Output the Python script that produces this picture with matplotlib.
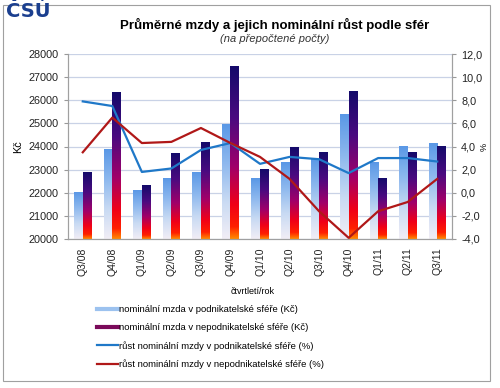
import numpy as np
import matplotlib
matplotlib.use('Agg')
import matplotlib.pyplot as plt
from matplotlib.lines import Line2D
from matplotlib.patches import Rectangle
from matplotlib.colors import LinearSegmentedColormap

plt.rcParams['font.family'] = ['Liberation Sans', 'DejaVu Sans']

quarters = ['Q3/08', 'Q4/08', 'Q1/09', 'Q2/09', 'Q3/09', 'Q4/09', 'Q1/10',
            'Q2/10', 'Q3/10', 'Q4/10', 'Q1/11', 'Q2/11', 'Q3/11']
# average wages (Kc)
wage_business = [22020, 23880, 22080, 22600, 22870, 24960, 22600,
                 23300, 23420, 25400, 23300, 24010, 24110]
wage_nonbusiness = [22880, 26320, 22310, 23690, 24170, 27480, 23020,
                    23940, 23740, 26390, 22630, 23740, 24010]
# nominal growth (%)
growth_business = [7.9, 7.5, 1.8, 2.1, 3.7, 4.3, 2.5, 3.1, 2.9, 1.7, 3.0, 3.0, 2.7]
growth_nonbusiness = [3.5, 6.5, 4.3, 4.4, 5.6, 4.3, 3.1, 1.2, -1.6, -3.9, -1.6, -0.8, 1.2]

labels = ['nominální mzda v podnikatelské sféře (Kč)',
          'nominální mzda v nepodnikatelské sféře (Kč)',
          'růst nominální mzdy v podnikatelské sféře (%)',
          'růst nominální mzdy v nepodnikatelské sféře (%)']

W, H = 500, 388
fig = plt.figure(figsize=(W / 100, H / 100), dpi=100)

# outer frame
fig.patches.append(Rectangle((3 / W, 1 - 381 / H), 487 / W, 376 / H, transform=fig.transFigure,
                             fill=False, edgecolor='#a0a0a0', lw=0.8))

ax = fig.add_axes([68 / W, 1 - 239 / H, (452 - 68) / W, (239 - 54) / H])
ax2 = ax.twinx()

cmap_light = LinearSegmentedColormap.from_list('light', ['#f2eef6', '#c8daf3', '#8db8ee', '#5a98e6'])
cmap_dark = LinearSegmentedColormap.from_list(
    'dark', [(0, '#ff8a00'), (0.07, '#ff2000'), (0.2, '#f00018'), (0.42, '#a0006a'),
             (0.7, '#4a0a80'), (1, '#140a6a')])
grad = np.linspace(0, 1, 256).reshape(-1, 1)

x = np.arange(len(quarters))
w = 0.29
b1 = ax.bar(x - w / 2, np.array(wage_business) - 20000, w, bottom=20000, color='none', zorder=2)
b2 = ax.bar(x + w / 2, np.array(wage_nonbusiness) - 20000, w, bottom=20000, color='none', zorder=2)
for bars, cm in ((b1, cmap_light), (b2, cmap_dark)):
    for p in bars:
        x0, y0 = p.get_x(), p.get_y()
        ax.imshow(grad, cmap=cm, origin='lower', aspect='auto', zorder=2,
                  extent=(x0, x0 + p.get_width(), y0, y0 + p.get_height()))

ax.set_xlim(-0.5, len(quarters) - 0.5)
ax.set_ylim(20000, 28000)
ax.set_yticks(np.arange(20000, 28001, 1000))
ax.yaxis.grid(True, color='#c9d2e6', lw=0.9, zorder=0)
ax.set_axisbelow(True)
ax.set_xticks(x)
ax.set_xticklabels(quarters, rotation=90, fontsize=7.5, color='#222222')
ax.tick_params(axis='x', length=0, pad=6)
ax.tick_params(axis='y', labelsize=7.8, colors='#222222', length=3, color='#999999')
ax.set_ylabel('Kč', fontsize=7.8, labelpad=4)

ax2.plot(x, growth_business, color='#1f78c8', lw=1.6, zorder=3)
ax2.plot(x, growth_nonbusiness, color='#b01818', lw=1.6, zorder=3)
ax2.set_ylim(-4, 12)
ax2.set_yticks(np.arange(-4, 12.1, 2))
ax2.set_yticklabels([f'{v:.1f}'.replace('.', ',') for v in np.arange(-4, 12.1, 2)])
ax2.tick_params(axis='y', labelsize=7.8, colors='#222222', length=3, color='#999999')
ax2.set_ylabel('%', fontsize=6.5, labelpad=-2)

for a in (ax, ax2):
    a.spines['top'].set_visible(False)
    for s in ('left', 'right', 'bottom'):
        a.spines[s].set_color('#a0a0a0')
        a.spines[s].set_linewidth(0.8)

# titles and logo
fig.text(275 / W, 1 - 25 / H, 'Průměrné mzdy a jejich nominální růst podle sfér',
         ha='center', va='center', fontsize=9.5, fontweight='bold')
fig.text(275 / W, 1 - 39 / H, '(na přepočtené počty)', ha='center', va='center',
         fontsize=8, style='italic', color='#333333')
fig.text(6 / W, 1 - 2 / H, 'ČSÚ', ha='left', va='top', fontsize=14, fontweight='heavy',
         color='#1b3f8f', family='DejaVu Sans')

fig.text(253 / W, 1 - 291 / H, 'čtvrtletí/rok', ha='center', va='center', fontsize=6.5)

handles = [Line2D([], [], color='#9cc2ef', lw=3),
           Line2D([], [], color='#7a0a5a', lw=3),
           Line2D([], [], color='#1f78c8', lw=1.6),
           Line2D([], [], color='#b01818', lw=1.6)]
fig.legend(handles, labels, loc='upper left', bbox_to_anchor=(97 / W, 1 - 305 / H),
           frameon=False, fontsize=6.8, handlelength=2.2, handletextpad=0.15,
           labelspacing=0.95, borderpad=0, borderaxespad=0)

fig.savefig('out.png', dpi=100)
